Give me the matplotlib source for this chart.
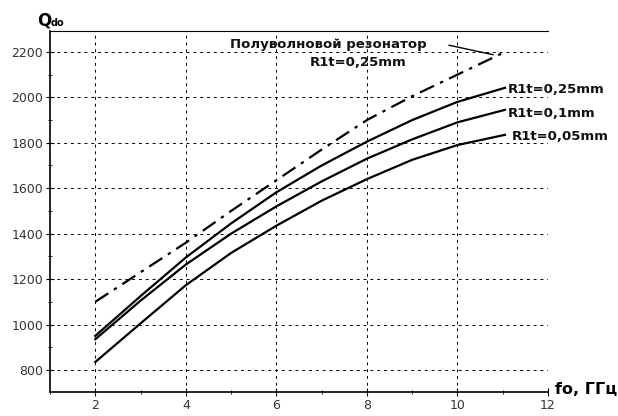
import numpy as np
import matplotlib
matplotlib.use('Agg')
import matplotlib.pyplot as plt
from matplotlib.ticker import MultipleLocator

plt.rcParams['font.family'] = ['DejaVu Sans']

f_half = [2, 3, 4, 5, 6, 7, 8, 9, 10, 11]
q_half = [1100, 1230, 1360, 1500, 1635, 1770, 1900, 2005, 2100, 2195]

f_r = [2, 3, 4, 5, 6, 7, 8, 9, 10, 11.05]
q_025 = [950, 1125, 1295, 1445, 1582, 1700, 1805, 1900, 1980, 2042]
q_010 = [935, 1105, 1264, 1400, 1520, 1630, 1730, 1815, 1890, 1945]
q_005 = [835, 1005, 1173, 1315, 1435, 1545, 1640, 1725, 1790, 1835]

x_ticks = [2, 4, 6, 8, 10, 12]
y_ticks = [800, 1000, 1200, 1400, 1600, 1800, 2000, 2200]
x_grid = [2, 4, 6, 8, 10]

fig = plt.figure(figsize=(6.18, 4.16), dpi=100)
ax = fig.add_axes([50/618, 1-392/416, 498/618, 361/416])
ax.set_xlim(1, 12)
ax.set_ylim(703, 2292)

for xv in x_grid:
    ax.axvline(xv, color='black', lw=0.7, ls=(0, (3, 4)), zorder=1)
for yv in y_ticks:
    ax.axhline(yv, color='black', lw=0.7, ls=(0, (3, 4)), zorder=1)

ax.plot(f_half, q_half, color='black', lw=1.6, ls=(0, (7, 3, 1.5, 3)))
ax.plot(f_r, q_025, color='black', lw=1.6)
ax.plot(f_r, q_010, color='black', lw=1.6)
ax.plot(f_r, q_005, color='black', lw=1.6)

ax.spines['right'].set_visible(False)
for s in ['left', 'bottom']:
    ax.spines[s].set_linewidth(1.2)
ax.spines['top'].set_linewidth(0.8)

ax.set_xticks(x_ticks)
ax.set_yticks(y_ticks)
ax.xaxis.set_minor_locator(MultipleLocator(1))
ax.yaxis.set_minor_locator(MultipleLocator(100))
ax.tick_params(which='major', direction='inout', length=6, width=0.8,
               labelsize=9, colors='black', labelcolor='#333333', pad=2)
ax.tick_params(which='minor', direction='inout', length=3, width=0.6)
ax.tick_params(top=False)

kw = dict(fontsize=9.5, fontweight='bold', color='#111111')
ax.text(4.98, 2232, 'Полуволновой резонатор', ha='left', va='center', **kw)
ax.text(6.74, 2152, 'R1t=0,25mm', ha='left', va='center', **kw)
ax.annotate('', xy=(10.85, 2185), xytext=(9.75, 2232),
            arrowprops=dict(arrowstyle='-', color='black', lw=1.0))
ax.text(11.12, 2035, 'R1t=0,25mm', ha='left', va='center', **kw)
ax.text(11.12, 1931, 'R1t=0,1mm', ha='left', va='center', **kw)
ax.text(11.2, 1826, 'R1t=0,05mm', ha='left', va='center', **kw)

fig.text(37/618, 1-20/416, 'Q', fontsize=12, fontweight='bold', ha='left', va='center')
fig.text(51/618, 1-23/416, 'do', fontsize=7, fontweight='bold', ha='left', va='center')
fig.text(555/618, 1-390/416, 'fo, ГГц', fontsize=11.5, fontweight='bold',
         ha='left', va='center')

fig.savefig('out.png', dpi=100)
